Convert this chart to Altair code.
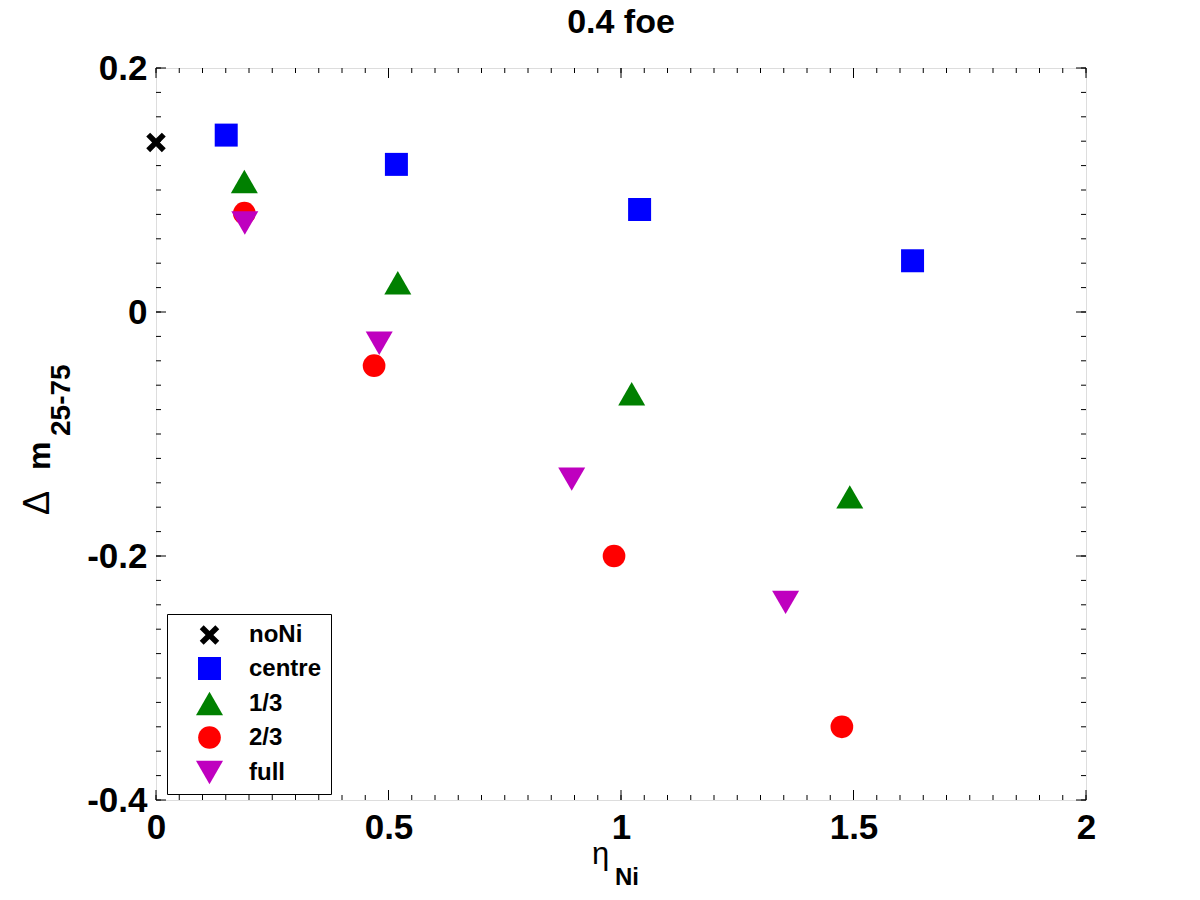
import altair as alt
import pandas as pd

# ---- data ----
series_names = ["noNi", "centre", "1/3", "2/3", "full"]
series_colors = ["#000000", "#0000FF", "#008000", "#FF0000", "#BF00BF"]

noni_x = [0.0]
noni_y = [0.139]
centre_x = [0.151, 0.517, 1.040, 1.627]
centre_y = [0.145, 0.121, 0.084, 0.042]
third_x = [0.190, 0.520, 1.023, 1.492]
third_y = [0.107, 0.024, -0.067, -0.1515]
twothird_x = [0.190, 0.469, 0.985, 1.475]
twothird_y = [0.081, -0.044, -0.200, -0.340]
full_x = [0.191, 0.480, 0.894, 1.354]
full_y = [0.073, -0.0256, -0.137, -0.238]

x_major = [0, 0.5, 1, 1.5, 2]
x_minor = [round(0.05 * i, 2) for i in range(41)]
y_major = [-0.4, -0.2, 0, 0.2]
y_minor = [round(-0.4 + 0.02 * i, 2) for i in range(31)]

title_text = "0.4 foe"
ytitle_delta = "\u0394"
ytitle_m = "m"
ytitle_sub = "25-75"
xtitle_eta = "\u03b7"
xtitle_sub = "Ni"

# ---- build table ----
rows = []
for name, xs_, ys_ in [
    ("noNi", noni_x, noni_y),
    ("centre", centre_x, centre_y),
    ("1/3", third_x, third_y),
    ("2/3", twothird_x, twothird_y),
    ("full", full_x, full_y),
]:
    for a, b in zip(xs_, ys_):
        rows.append({"x": a, "y": b, "series": name})
df = pd.DataFrame(rows)

W, H = 930, 732
FONT = "Liberation Sans"

xs = alt.Scale(domain=[0, 2], nice=False, zero=False)
ys = alt.Scale(domain=[-0.4, 0.2], nice=False, zero=False)

lab_expr = "datum.value < 0 ? '-' + format(-datum.value, '~g') : format(datum.value, '~g')"

xaxis = alt.Axis(
    values=x_major, title=None, grid=False, ticks=False, domain=False,
    labelFont=FONT, labelFontWeight="bold", labelFontSize=35, labelColor="black",
    labelPadding=10, labelExpr=lab_expr, labelFlush=False)
yaxis = alt.Axis(
    values=y_major, title=None, grid=False, ticks=False, domain=False,
    labelFont=FONT, labelFontWeight="bold", labelFontSize=35, labelColor="black",
    labelPadding=9, labelExpr=lab_expr, labelFlush=False)

xcross = "M-1,-0.6L-0.6,-1L0,-0.4L0.6,-1L1,-0.6L0.4,0L1,0.6L0.6,1L0,0.4L-0.6,1L-1,0.6L-0.4,0Z"
shapes = [xcross, "square", "triangle-up", "circle", "triangle-down"]
sizes = [380, 529, 729, 515, 729]

leg = alt.Legend(
    title=None, orient="none", legendX=11, legendY=546,
    padding=9, strokeColor="black", fillColor="white",
    labelFont=FONT, labelFontWeight="bold", labelFontSize=24, labelColor="black",
    symbolOffset=20, labelOffset=26, rowPadding=9.5, symbolOpacity=1,
    symbolStrokeWidth=0,
)

points = alt.Chart(df).mark_point(filled=True, opacity=1, strokeWidth=0).encode(
    x=alt.X("x:Q", scale=xs, axis=xaxis),
    y=alt.Y("y:Q", scale=ys, axis=yaxis),
    color=alt.Color("series:N", scale=alt.Scale(domain=series_names, range=series_colors), legend=leg),
    shape=alt.Shape("series:N", scale=alt.Scale(domain=series_names, range=shapes), legend=leg),
    size=alt.Size("series:N", scale=alt.Scale(type="ordinal", domain=series_names, range=sizes), legend=leg),
)

dxmaj = pd.DataFrame({"x": x_major})
dxmin = pd.DataFrame({"x": x_minor})
dymaj = pd.DataFrame({"y": y_major})
dymin = pd.DataFrame({"y": y_minor})

def xticks(d, length):
    bot = alt.Chart(d).mark_rule(color="black", strokeWidth=1).encode(
        x=alt.X("x:Q", scale=xs, axis=xaxis), y=alt.value(H), y2=alt.value(H - length))
    top = alt.Chart(d).mark_rule(color="black", strokeWidth=1).encode(
        x=alt.X("x:Q", scale=xs, axis=xaxis), y=alt.value(0), y2=alt.value(length))
    return [bot, top]

def yticks(d, length):
    left = alt.Chart(d).mark_rule(color="black", strokeWidth=1).encode(
        y=alt.Y("y:Q", scale=ys, axis=yaxis), x=alt.value(0), x2=alt.value(length))
    right = alt.Chart(d).mark_rule(color="black", strokeWidth=1).encode(
        y=alt.Y("y:Q", scale=ys, axis=yaxis), x=alt.value(W), x2=alt.value(W - length))
    return [left, right]

one = pd.DataFrame({"k": [0]})

def txt(s, x, y, size, weight="bold", angle=0, align="left"):
    return alt.Chart(one).mark_text(
        text=s, font=FONT, fontSize=size, fontWeight=weight, angle=angle,
        align=align, baseline="alphabetic", color="black",
    ).encode(x=alt.value(x), y=alt.value(y))

texts = [
    txt(title_text, W / 2, -35, 34, align="center"),
    txt(ytitle_delta, -107, 447, 36, weight="normal", angle=270),
    txt(ytitle_m, -106, 402, 32, angle=270),
    txt(ytitle_sub, -86, 368, 28, angle=270),
    txt(xtitle_eta, 436, 796, 31, weight="normal"),
    txt(xtitle_sub, 459, 817, 24),
]

layers = xticks(dxmin, 5) + xticks(dxmaj, 10) + yticks(dymin, 5) + yticks(dymaj, 10) + [points] + texts

chart = alt.layer(*layers).properties(
    width=W, height=H,
    padding={"left": 148, "top": 60, "right": 106, "bottom": 92},
    autosize="none",
).configure_view(stroke="black", strokeWidth=1.5).configure(background="white")

chart.save("out.html", embed_options={"renderer": "svg", "actions": False})
